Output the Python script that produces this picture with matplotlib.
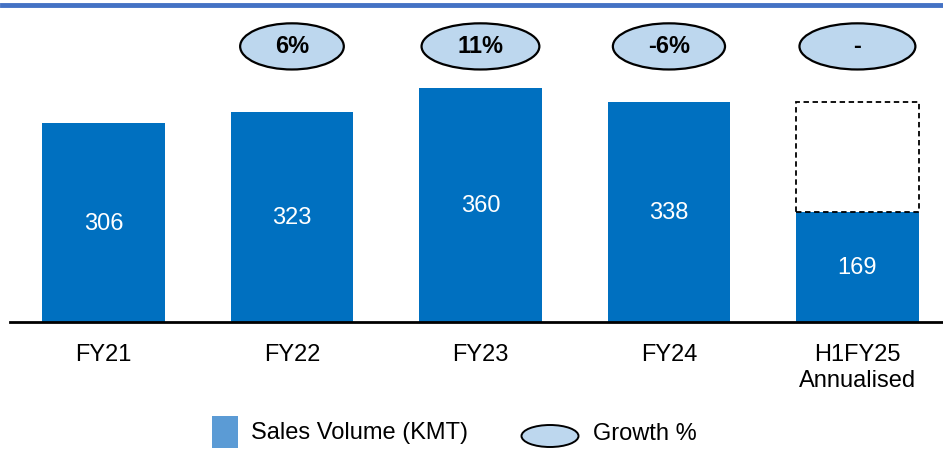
import matplotlib.pyplot as plt
from matplotlib.lines import Line2D
from matplotlib.patches import Ellipse, Rectangle

plt.rcParams["font.family"] = ["Liberation Sans", "DejaVu Sans"]

# ── Data ──────────────────────────────────────────────────────────────────────
categories = ["FY21", "FY22", "FY23", "FY24", "H1FY25\nAnnualised"]
sales_volume = [306, 323, 360, 338, 169]
growth_labels = ["", "6%", "11%", "-6%", "-"]
annualised_total = 338  # dashed outline for the annualised bar

BAR_COLOR = "#0070C0"
ELLIPSE_COLOR = "#BDD7EE"
LEGEND_BAR = "#5B9BD5"
TOP_LINE = "#4472C4"

# ellipse widths (in bar-slot units) differ slightly in the original
ELLIPSE_W = [0.0, 0.55, 0.625, 0.595, 0.615]

# ── Figure ────────────────────────────────────────────────────────────────────
fig = plt.figure(figsize=(9.43, 4.5), dpi=100)
W, H = 943, 450
ax = fig.add_axes([10 / W, (H - 322) / H, 933 / W, 317 / H])

x = range(len(categories))
bars = ax.bar(x, sales_volume, width=0.65, color=BAR_COLOR, zorder=2)

# dashed outline for annualised value
last = len(categories) - 1
ax.add_patch(Rectangle((last - 0.325, sales_volume[last]), 0.65,
                       annualised_total - sales_volume[last],
                       fill=False, edgecolor="black", linestyle=(0, (3, 2)),
                       linewidth=1.3, zorder=3))

for bar, v in zip(bars, sales_volume):
    ax.text(bar.get_x() + bar.get_width() / 2, v / 2 - 2, f"{v}",
            ha="center", va="center", color="white", fontsize=17)

# growth ellipses
for i, g in enumerate(growth_labels):
    if not g:
        continue
    ax.add_patch(Ellipse((i, 424), ELLIPSE_W[i], 71, facecolor=ELLIPSE_COLOR,
                         edgecolor="black", linewidth=1.6, zorder=3))
    ax.text(i, 424, g, ha="center", va="center", fontsize=17,
            fontweight="bold", zorder=4)

ax.set_xlim(-0.496, 4.454)
ax.set_ylim(0, 487.7)
ax.set_xticks(list(x))
ax.set_xticklabels(categories, fontsize=17, linespacing=1.2)
ax.tick_params(axis="x", length=0, pad=16)
ax.set_yticks([])
for s in ["top", "left", "right"]:
    ax.spines[s].set_visible(False)
ax.spines["bottom"].set_linewidth(2)

# top rule
fig.add_artist(Line2D([2 / W, 1], [1 - 5 / H, 1 - 5 / H], color=TOP_LINE,
                      linewidth=3.5))

# legend (drawn manually)
fig.add_artist(Rectangle((212 / W, 1 - 448 / H), 26 / W, 32 / H,
                         facecolor=LEGEND_BAR, edgecolor="none",
                         transform=fig.transFigure))
fig.text(251 / W, 1 - 433 / H, "Sales Volume (KMT)", fontsize=17,
         va="center", ha="left")
fig.add_artist(Ellipse((550 / W, 1 - 436 / H), 57 / W, 22 / H,
                       facecolor=ELLIPSE_COLOR, edgecolor="black",
                       linewidth=1.4, transform=fig.transFigure))
fig.text(593 / W, 1 - 434 / H, "Growth %", fontsize=17, va="center",
         ha="left")

fig.savefig("out.png", dpi=100)
